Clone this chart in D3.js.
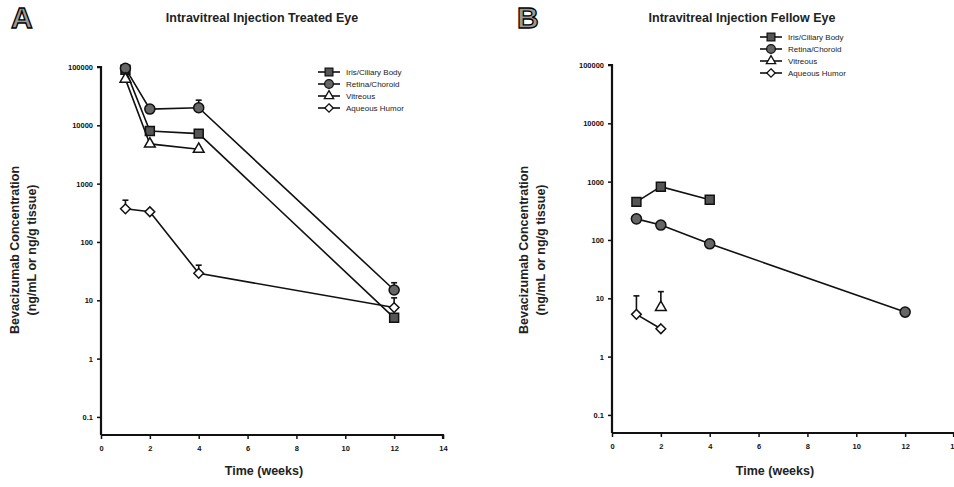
<!DOCTYPE html>
<html>
<head>
<meta charset="utf-8">
<script src="https://cdn.jsdelivr.net/npm/d3@7"></script>
<style>
  body { margin: 0; background: #fff; }
  svg { font-family: "Liberation Sans", Arial, sans-serif; }
</style>
</head>
<body>
<svg width="954" height="487"></svg>
<script>
// time points (weeks)
var weeks = [1, 2, 4, 12]
var seriesNames = ["Iris/Ciliary Body", "Retina/Choroid", "Vitreous", "Aqueous Humor"]
var yTicks = [0.1, 1, 10, 100, 1000, 10000, 100000]
var xTicks = [0, 2, 4, 6, 8, 10, 12, 14]

// panel A - treated eye
var irisA = [90000, 8000, 7200, 5]
var retinaA = [95000, 19000, 20000, 15]
var vitreousA = [62000, 4800, 3900, null]
var aqueousA = [370, 330, 29, 7.5]
var irisAErr = [null, null, null, null]
var retinaAErr = [null, null, 27000, 20]
var vitreousAErr = [null, null, null, null]
var aqueousAErr = [520, null, 40, 11]

// panel B - fellow eye
var irisB = [450, 820, 490, null]
var retinaB = [230, 180, 86, 5.8]
var vitreousB = [null, 7, null, null]
var aqueousB = [5.3, 3, null, null]
var irisBErr = [null, null, null, null]
var retinaBErr = [null, null, null, null]
var vitreousBErr = [null, 13, null, null]
var aqueousBErr = [11, null, null, null]

var svg = d3.select("svg")

function drawPanel(opt) {
  var x = d3.scaleLinear().domain([0, 14]).range([opt.left, opt.left + 342])
  var y = d3.scaleLog().domain([0.049, 100000]).range([opt.bottom, opt.bottom - 368])

  var g = svg.append("g")

  // panel letter
  g.append("text")
    .attr("x", opt.letterX).attr("y", 28)
    .attr("font-size", "30px").attr("font-weight", "bold")
    .attr("fill", "#9a9a9a").attr("stroke", "#000").attr("stroke-width", 1.3)
    .text(opt.letter)

  g.append("text")
    .attr("x", opt.titleX).attr("y", 22)
    .attr("text-anchor", "middle")
    .attr("font-size", "12.5px").attr("font-weight", "bold")
    .attr("fill", "#222")
    .text(opt.title)

  // axes
  var yAxis = g.append("g")
    .attr("transform", "translate(" + opt.left + ",0)")
    .call(d3.axisLeft(y).tickValues(yTicks).tickSize(4).tickPadding(4)
      .tickFormat(function(d) { return d3.format("")(d) }))
  var xAxis = g.append("g")
    .attr("transform", "translate(0," + opt.bottom + ")")
    .call(d3.axisBottom(x).tickValues(xTicks).tickSize(4).tickPadding(7))

  ;[yAxis, xAxis].forEach(function(a) {
    a.select(".domain").attr("stroke-width", 2.2).attr("stroke", "#111")
    a.selectAll(".tick line").attr("stroke-width", 1.5).attr("stroke", "#111")
    a.selectAll(".tick text").attr("font-size", "7.5px").attr("font-weight", "bold")
      .attr("fill", "#111").attr("font-family", "\"Liberation Sans\", Arial, sans-serif")
  })
  yAxis.select(".domain").attr("d", "M-4," + y(100000) + "H0V" + opt.bottom)
  xAxis.select(".domain").attr("d", "M" + opt.left + ",0H" + (opt.left + 342) + "V4")

  // axis titles
  g.append("text")
    .attr("transform", "translate(" + opt.yLabX + ",250) rotate(-90)")
    .attr("text-anchor", "middle")
    .attr("font-size", "12.5px").attr("font-weight", "bold").attr("fill", "#222")
    .text("Bevacizumab Concentration")
  g.append("text")
    .attr("transform", "translate(" + (opt.yLabX + 17) + ",250) rotate(-90)")
    .attr("text-anchor", "middle")
    .attr("font-size", "12.5px").attr("font-weight", "bold").attr("fill", "#222")
    .text("(ng/mL or ng/g tissue)")
  g.append("text")
    .attr("x", opt.left + 163).attr("y", 475)
    .attr("text-anchor", "middle")
    .attr("font-size", "12.5px").attr("font-weight", "bold").attr("fill", "#222")
    .text("Time (weeks)")

  var line = d3.line()
    .defined(function(d) { return d[1] != null })
    .x(function(d) { return x(d[0]) })
    .y(function(d) { return y(d[1]) })

  var shapes = [d3.symbolSquare, d3.symbolCircle, d3.symbolTriangle, d3.symbolDiamond2 || d3.symbolDiamond]
  var sizes = [80, 80, 50, 60]
  var fills = ["#555", "#666", "#fff", "#fff"]

  opt.series.forEach(function(vals, k) {
    var pts = weeks.map(function(w, i) { return [w, vals[i]] })
    g.append("path")
      .datum(pts)
      .attr("d", line)
      .attr("fill", "none").attr("stroke", "#111").attr("stroke-width", 1.6)

    // error bars (upper only)
    var errs = opt.errors[k]
    weeks.forEach(function(w, i) {
      if (errs[i] == null || vals[i] == null) return
      g.append("line")
        .attr("x1", x(w)).attr("x2", x(w))
        .attr("y1", y(vals[i])).attr("y2", y(errs[i]))
        .attr("stroke", "#111").attr("stroke-width", 1.6)
      g.append("line")
        .attr("x1", x(w) - 3).attr("x2", x(w) + 3)
        .attr("y1", y(errs[i])).attr("y2", y(errs[i]))
        .attr("stroke", "#111").attr("stroke-width", 1.6)
    })

    g.selectAll(null)
      .data(pts.filter(function(d) { return d[1] != null }))
      .enter().append("path")
      .attr("transform", function(d) { return "translate(" + x(d[0]) + "," + y(d[1]) + ")" })
      .attr("d", d3.symbol().type(shapes[k]).size(sizes[k]))
      .attr("fill", fills[k]).attr("stroke", "#111").attr("stroke-width", 1.5)
  })

  // legend
  var leg = g.append("g").attr("transform", "translate(" + opt.legX + "," + opt.legY + ")")
  seriesNames.forEach(function(name, k) {
    var row = leg.append("g").attr("transform", "translate(0," + (k * 12) + ")")
    row.append("line").attr("x1", 0).attr("x2", 22).attr("y1", 0).attr("y2", 0)
      .attr("stroke", "#111").attr("stroke-width", 1.6)
    row.append("path")
      .attr("transform", "translate(11,0)")
      .attr("d", d3.symbol().type(shapes[k]).size(sizes[k] * 0.75))
      .attr("fill", fills[k]).attr("stroke", "#111").attr("stroke-width", 1.3)
    row.append("text")
      .attr("x", 28).attr("y", 3)
      .attr("font-size", "8px").attr("fill", "#222")
      .text(name)
  })
}

drawPanel({
  letter: "A", letterX: 11, title: "Intravitreal Injection Treated Eye", titleX: 262,
  left: 101, bottom: 435, yLabX: 19, legX: 318, legY: 72,
  series: [irisA, retinaA, vitreousA, aqueousA],
  errors: [irisAErr, retinaAErr, vitreousAErr, aqueousAErr]
})

drawPanel({
  letter: "B", letterX: 517, title: "Intravitreal Injection Fellow Eye", titleX: 742,
  left: 612, bottom: 433, yLabX: 528, legX: 760, legY: 37,
  series: [irisB, retinaB, vitreousB, aqueousB],
  errors: [irisBErr, retinaBErr, vitreousBErr, aqueousBErr]
})
</script>
</body>
</html>
